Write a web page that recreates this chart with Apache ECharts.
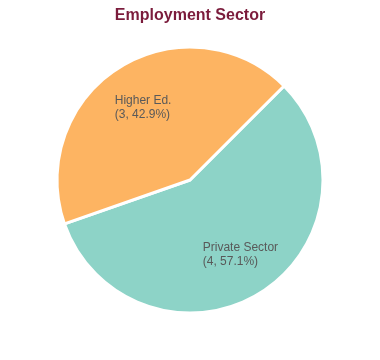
<!DOCTYPE html>
<html><head><meta charset="utf-8">
<script src="https://cdn.jsdelivr.net/npm/echarts@6/dist/echarts.min.js"></script>
<style>html,body{margin:0;padding:0;background:#fff}#c{width:380px;height:360px}</style>
</head><body><div id="c"></div>
<script>
const categories = ['Private Sector', 'Higher Ed.'];
const values = [4, 3];
const colors = ['#8dd3c7', '#fdb462'];

const total = values.reduce((a, b) => a + b, 0);
const ctx = document.createElement('canvas').getContext('2d');
ctx.font = '12px "Liberation Sans", Arial, sans-serif';
function lines(i) {
  return [categories[i], '(' + values[i] + ', ' + (values[i] / total * 100).toFixed(1) + '%)'];
}
const mainData = categories.map((c, i) => ({ name: c, value: values[i], itemStyle: { color: colors[i] } }));
const labelData = categories.map((c, i) => {
  const ls = lines(i);
  const w = Math.ceil(Math.max(...ls.map(l => ctx.measureText(l).width)));
  return {
    name: c, value: values[i],
    label: { rich: { a: { width: w, align: 'left', fontSize: 12, lineHeight: 14, color: '#595959', fontFamily: '"Liberation Sans", Arial, sans-serif' } } }
  };
});

const chart = echarts.init(document.getElementById('c'));
chart.setOption({
  animation: false,
  title: {
    text: 'Employment Sector', left: 'center', top: 3,
    textStyle: { fontSize: 16, fontWeight: 'bold', color: '#7b1c3c', fontFamily: '"Liberation Sans", Arial, sans-serif' }
  },
  series: [
    {
      type: 'pie', center: [190, 180], radius: [0, 133], startAngle: 45, clockwise: true,
      label: { show: false }, labelLine: { show: false },
      itemStyle: { borderColor: '#fff', borderWidth: 3 },
      emphasis: { disabled: true },
      data: mainData
    },
    {
      type: 'pie', center: [190, 180], radius: [0, 170], startAngle: 46.5, clockwise: true, silent: true,
      itemStyle: { color: 'rgba(0,0,0,0)' },
      labelLine: { show: false },
      label: {
        show: true, position: 'inside', offset: [2, 1],
        formatter: p => {
          const ls = lines(p.dataIndex);
          return '{a|' + ls[0] + '}\n{a|' + ls[1] + '}';
        }
      },
      emphasis: { disabled: true },
      data: labelData
    }
  ]
});
</script></body></html>
